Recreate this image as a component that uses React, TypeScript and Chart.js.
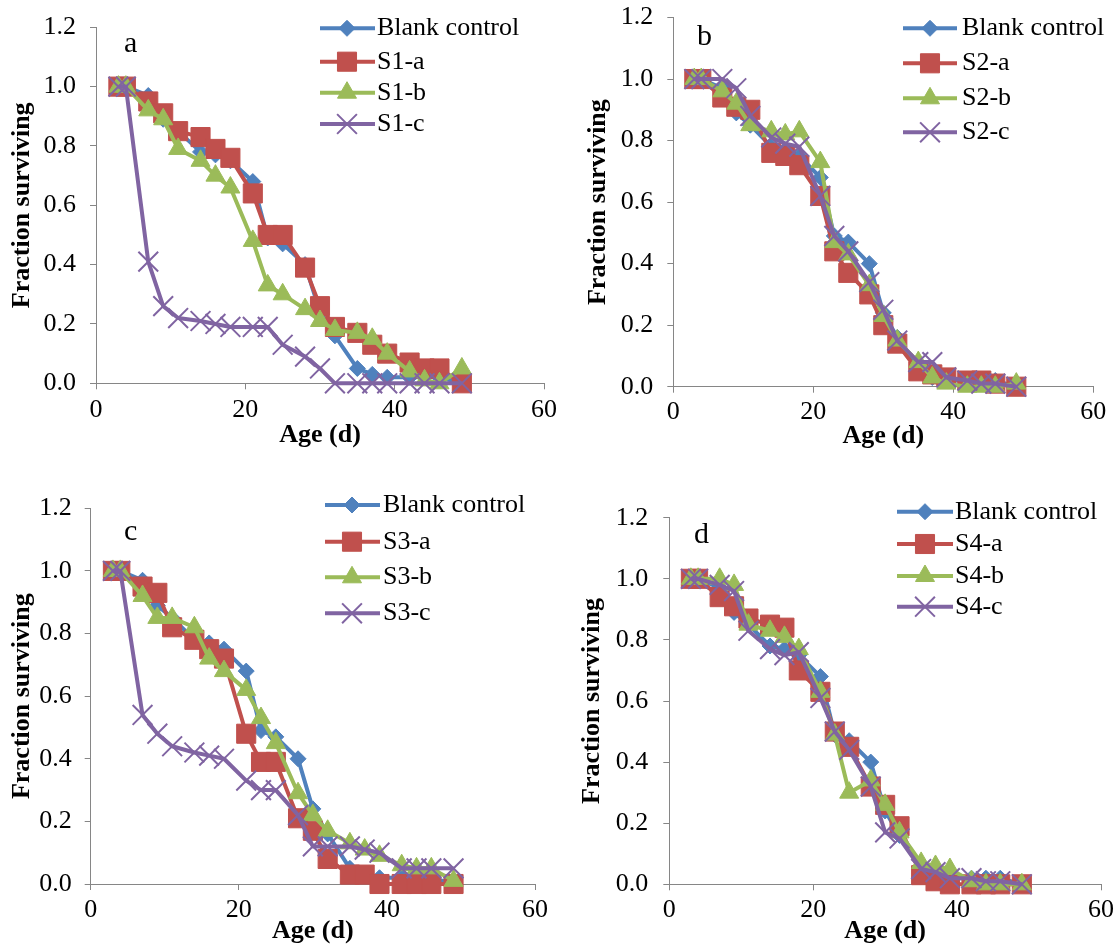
import React, { useEffect, useRef } from 'react';
import { Chart, registerables } from 'chart.js';

Chart.register(...registerables);

// ---------- data ----------
const ages = [3, 4, 7, 9, 11, 14, 16, 18, 21, 23, 25, 28, 30, 32, 35, 37, 39, 42, 44, 46, 49];

const blankControl = [1.0, 1.0, 0.97, 0.89, 0.85, 0.78, 0.77, 0.75, 0.68, 0.49, 0.47, 0.40, 0.24, 0.16, 0.05, 0.03, 0.02, 0.02, 0.02, 0.02, 0.0];

const s1a = [1.0, 1.0, 0.95, 0.91, 0.85, 0.83, 0.79, 0.76, 0.64, 0.50, 0.50, 0.39, 0.26, 0.19, 0.17, 0.13, 0.10, 0.07, 0.05, 0.05, 0.0];
const s1b = [1.0, 1.0, 0.92, 0.89, 0.79, 0.75, 0.70, 0.66, 0.48, 0.33, 0.30, 0.25, 0.21, 0.18, 0.17, 0.15, 0.10, 0.04, 0.01, 0.0, 0.05];
const s1c = [1.0, 1.0, 0.41, 0.26, 0.22, 0.21, 0.20, 0.19, 0.19, 0.19, 0.13, 0.09, 0.05, 0.0, 0.0, 0.0, 0.0, 0.0, 0.0, 0.0, 0.0];

const s2a = [1.0, 1.0, 0.94, 0.91, 0.90, 0.76, 0.75, 0.72, 0.62, 0.44, 0.37, 0.30, 0.20, 0.14, 0.05, 0.04, 0.03, 0.02, 0.02, 0.01, 0.0];
const s2b = [1.0, 1.0, 0.96, 0.92, 0.85, 0.83, 0.82, 0.83, 0.73, 0.47, 0.43, 0.33, 0.23, 0.15, 0.08, 0.03, 0.01, 0.0, 0.0, 0.0, 0.01];
const s2c = [1.0, 1.0, 1.0, 0.97, 0.88, 0.81, 0.79, 0.78, 0.62, 0.49, 0.44, 0.34, 0.25, 0.15, 0.08, 0.08, 0.03, 0.02, 0.01, 0.01, 0.0];

const s3a = [1.0, 1.0, 0.95, 0.93, 0.82, 0.78, 0.75, 0.72, 0.48, 0.39, 0.39, 0.21, 0.17, 0.08, 0.03, 0.03, 0.0, 0.0, 0.0, 0.0, 0.0];
const s3b = [1.0, 1.0, 0.92, 0.85, 0.85, 0.82, 0.72, 0.68, 0.62, 0.53, 0.45, 0.29, 0.22, 0.17, 0.13, 0.11, 0.09, 0.06, 0.05, 0.05, 0.01];
const s3c = [1.0, 1.0, 0.54, 0.48, 0.44, 0.42, 0.41, 0.40, 0.33, 0.30, 0.30, 0.22, 0.12, 0.12, 0.12, 0.11, 0.10, 0.05, 0.05, 0.05, 0.05];

const s4a = [1.0, 1.0, 0.94, 0.91, 0.87, 0.85, 0.84, 0.70, 0.63, 0.50, 0.45, 0.32, 0.26, 0.19, 0.03, 0.01, 0.0, 0.0, 0.0, 0.0, 0.0];
const s4b = [1.0, 1.0, 1.0, 0.98, 0.85, 0.83, 0.81, 0.77, 0.63, 0.49, 0.30, 0.34, 0.26, 0.17, 0.07, 0.06, 0.05, 0.01, 0.0, 0.0, 0.0];
const s4c = [1.0, 1.0, 0.98, 0.96, 0.83, 0.77, 0.75, 0.76, 0.61, 0.50, 0.44, 0.32, 0.17, 0.15, 0.05, 0.04, 0.02, 0.02, 0.01, 0.01, 0.0];

const labelsA = ['Blank control', 'S1-a', 'S1-b', 'S1-c'];
const labelsB = ['Blank control', 'S2-a', 'S2-b', 'S2-c'];
const labelsC = ['Blank control', 'S3-a', 'S3-b', 'S3-c'];
const labelsD = ['Blank control', 'S4-a', 'S4-b', 'S4-c'];

const xTickValues = [0, 20, 40, 60];
const yTickValues = [0, 0.2, 0.4, 0.6, 0.8, 1.0, 1.2];

const xTitle = 'Age (d)';
const yTitle = 'Fraction surviving';

// ---------- styles ----------
const FONT = '"Liberation Serif", "Times New Roman", serif';
const AXIS_GRAY = '#868686';
const seriesStyles = [
  { color: '#4F81BD', pointStyle: 'rectRot', radius: 8, pbw: 1 },
  { color: '#C0504D', pointStyle: 'rect', radius: 13.5, pbw: 1 },
  { color: '#9BBB59', pointStyle: 'triangle', radius: 11, pbw: 1 },
  { color: '#8064A2', pointStyle: 'crossRot', radius: 14, pbw: 2 },
];

type Panel = {
  key: string;
  canvas: { x: number; y: number; w: number; h: number };
  area: { L: number; R: number; T: number; B: number };
  yTitleX: number;
  yLabelGap: number;
  xLabelOff: number;
  xTitleOff: number;
  legend: { x1: number; x2: number; mx: number; tx: number; rows: number[] };
  letter: { text: string; x: number; y: number };
  labels: string[];
  series: number[][];
};

const panels: Panel[] = [
  {
    key: 'a',
    canvas: { x: 0, y: 0, w: 560, h: 470 },
    area: { L: 96, R: 545, T: 27.3, B: 383.3 },
    yTitleX: 22.5,
    yLabelGap: 14,
    xLabelOff: 27,
    xTitleOff: 52,
    legend: { x1: 320, x2: 375, mx: 347, tx: 377, rows: [28.3, 61.7, 92.7, 124] },
    letter: { text: 'a', x: 124, y: 51.7 },
    labels: labelsA,
    series: [blankControl, s1a, s1b, s1c],
  },
  {
    key: 'b',
    canvas: { x: 560, y: 0, w: 557, h: 470 },
    area: { L: 673.3, R: 1093.3, T: 17.5, B: 386.7 },
    yTitleX: 598,
    yLabelGap: 14,
    xLabelOff: 25,
    xTitleOff: 50,
    legend: { x1: 903, x2: 957, mx: 930, tx: 962, rows: [28.3, 63.3, 98.3, 132.3] },
    letter: { text: 'b', x: 697, y: 45 },
    labels: labelsB,
    series: [blankControl, s2a, s2b, s2c],
  },
  {
    key: 'c',
    canvas: { x: 0, y: 470, w: 560, h: 475 },
    area: { L: 90.7, R: 535, T: 508.3, B: 884 },
    yTitleX: 22.5,
    yLabelGap: 13,
    xLabelOff: 26,
    xTitleOff: 47,
    legend: { x1: 325, x2: 380, mx: 352, tx: 383, rows: [505, 541.7, 577.3, 613.3] },
    letter: { text: 'c', x: 124, y: 540 },
    labels: labelsC,
    series: [blankControl, s3a, s3b, s3c],
  },
  {
    key: 'd',
    canvas: { x: 560, y: 470, w: 557, h: 475 },
    area: { L: 669.3, R: 1101.7, T: 517.7, B: 884.3 },
    yTitleX: 592.5,
    yLabelGap: 15,
    xLabelOff: 26,
    xTitleOff: 47,
    legend: { x1: 897, x2: 953, mx: 925, tx: 955, rows: [511.7, 544, 576, 606.7] },
    letter: { text: 'd', x: 694, y: 543 },
    labels: labelsD,
    series: [blankControl, s4a, s4b, s4c],
  },
];

function drawMarker(ctx: CanvasRenderingContext2D, style: string, x: number, y: number, r: number, color: string, bw: number) {
  ctx.save();
  ctx.fillStyle = color;
  ctx.strokeStyle = color;
  ctx.lineWidth = bw;
  ctx.beginPath();
  if (style === 'rectRot') {
    ctx.moveTo(x, y - r);
    ctx.lineTo(x + r, y);
    ctx.lineTo(x, y + r);
    ctx.lineTo(x - r, y);
    ctx.closePath();
    ctx.fill();
    ctx.stroke();
  } else if (style === 'rect') {
    const s = r * Math.SQRT1_2;
    ctx.rect(x - s, y - s, 2 * s, 2 * s);
    ctx.fill();
    ctx.stroke();
  } else if (style === 'triangle') {
    ctx.moveTo(x, y - r);
    ctx.lineTo(x + r * Math.sin((2 * Math.PI) / 3), y - r * Math.cos((2 * Math.PI) / 3));
    ctx.lineTo(x + r * Math.sin((4 * Math.PI) / 3), y - r * Math.cos((4 * Math.PI) / 3));
    ctx.closePath();
    ctx.fill();
    ctx.stroke();
  } else {
    const d = r * Math.SQRT1_2;
    ctx.moveTo(x - d, y - d);
    ctx.lineTo(x + d, y + d);
    ctx.moveTo(x - d, y + d);
    ctx.lineTo(x + d, y - d);
    ctx.stroke();
  }
  ctx.restore();
}

const panelDecor = {
  id: 'panelDecor',
  afterDatasetsDraw(chart: any, _args: any, opts: any) {
    const ctx: CanvasRenderingContext2D = chart.ctx;
    ctx.save();
    chart.data.datasets.forEach((ds: any, i: number) => {
      const y = opts.rows[i];
      ctx.strokeStyle = ds.borderColor;
      ctx.lineWidth = ds.borderWidth;
      ctx.beginPath();
      ctx.moveTo(opts.x1, y);
      ctx.lineTo(opts.x2, y);
      ctx.stroke();
      drawMarker(ctx, ds.pointStyle, opts.mx, y, ds.pointRadius, ds.pointBackgroundColor, ds.pointBorderWidth);
      ctx.fillStyle = '#000';
      ctx.font = `26px ${FONT}`;
      ctx.textAlign = 'left';
      ctx.textBaseline = 'middle';
      ctx.fillText(ds.label, opts.tx, y);
    });
    ctx.font = `30px ${FONT}`;
    ctx.textAlign = 'left';
    ctx.textBaseline = 'alphabetic';
    ctx.fillStyle = '#000';
    ctx.fillText(opts.letter, opts.lx, opts.ly);
    ctx.restore();
  },
};

const TICK_LEN = 6;
const FONT_SIZE = 26;
const LH = FONT_SIZE * 1.2;

function PanelChart({ p }: { p: Panel }) {
  const ref = useRef<HTMLCanvasElement | null>(null);
  useEffect(() => {
    if (!ref.current) return;
    const { canvas, area } = p;
    const yW = area.L - canvas.x;
    const xH = canvas.y + canvas.h - area.B;
    const datasets = p.series.map((vals, i) => {
      const st = seriesStyles[i];
      return {
        label: p.labels[i],
        data: ages.map((a, j) => ({ x: a, y: vals[j] })),
        borderColor: st.color,
        backgroundColor: st.color,
        borderWidth: 4,
        borderJoinStyle: 'round' as const,
        pointStyle: st.pointStyle,
        pointRadius: st.radius,
        pointHoverRadius: st.radius,
        pointBackgroundColor: st.color,
        pointBorderColor: st.color,
        pointBorderWidth: st.pbw,
        tension: 0,
        clip: false as any,
        order: 4 - i,
      };
    });
    const chart = new Chart(ref.current, {
      type: 'line',
      data: { datasets },
      plugins: [panelDecor],
      options: {
        animation: false,
        responsive: false,
        maintainAspectRatio: false,
        devicePixelRatio: 1,
        events: [],
        layout: {
          padding: {
            left: 0,
            top: area.T - canvas.y,
            right: canvas.x + canvas.w - area.R,
            bottom: 0,
          },
        },
        scales: {
          x: {
            type: 'linear',
            min: xTickValues[0],
            max: xTickValues[xTickValues.length - 1],
            afterBuildTicks: (scale: any) => {
              scale.ticks = xTickValues.map((v) => ({ value: v }));
            },
            afterFit: (scale: any) => {
              scale.height = xH;
              scale.paddingLeft = 0;
              scale.paddingRight = 0;
              scale.paddingTop = 0;
              scale.paddingBottom = 0;
            },
            ticks: {
              color: '#000',
              font: { family: FONT, size: FONT_SIZE },
              padding: p.xLabelOff - TICK_LEN - LH / 2,
              maxRotation: 0,
              callback: (v: any) => String(v),
            },
            grid: { drawOnChartArea: false, drawTicks: true, tickLength: TICK_LEN, color: AXIS_GRAY, lineWidth: 1 },
            border: { display: true, color: AXIS_GRAY, width: 1 },
            title: {
              display: true,
              text: xTitle,
              color: '#000',
              font: { family: FONT, size: FONT_SIZE, weight: 'bold', lineHeight: 1.2 },
              padding: { top: 0, bottom: xH - p.xTitleOff - LH / 2 },
            },
          },
          y: {
            type: 'linear',
            min: yTickValues[0],
            max: yTickValues[yTickValues.length - 1],
            afterBuildTicks: (scale: any) => {
              scale.ticks = yTickValues.map((v) => ({ value: v }));
            },
            afterFit: (scale: any) => {
              scale.width = yW;
              scale.paddingLeft = 0;
              scale.paddingRight = 0;
              scale.paddingTop = 0;
              scale.paddingBottom = 0;
            },
            ticks: {
              color: '#000',
              font: { family: FONT, size: FONT_SIZE },
              padding: p.yLabelGap,
              callback: (v: any) => Number(v).toFixed(1),
            },
            grid: { drawOnChartArea: false, drawTicks: true, tickLength: TICK_LEN, color: AXIS_GRAY, lineWidth: 1 },
            border: { display: true, color: AXIS_GRAY, width: 1 },
            title: {
              display: true,
              text: yTitle,
              color: '#000',
              font: { family: FONT, size: FONT_SIZE, weight: 'bold', lineHeight: 1.2 },
              padding: { top: p.yTitleX - canvas.x - LH / 2, bottom: 0 },
            },
          },
        },
        plugins: {
          legend: { display: false },
          tooltip: { enabled: false },
          panelDecor: {
            x1: p.legend.x1 - canvas.x,
            x2: p.legend.x2 - canvas.x,
            mx: p.legend.mx - canvas.x,
            tx: p.legend.tx - canvas.x,
            rows: p.legend.rows.map((r) => r - canvas.y),
            letter: p.letter.text,
            lx: p.letter.x - canvas.x,
            ly: p.letter.y - canvas.y,
          },
        } as any,
      },
    } as any);
    return () => chart.destroy();
  }, [p]);
  return (
    <canvas
      ref={ref}
      width={p.canvas.w}
      height={p.canvas.h}
      style={{ position: 'absolute', left: p.canvas.x, top: p.canvas.y, width: p.canvas.w, height: p.canvas.h }}
    />
  );
}

export default function App() {
  return (
    <div style={{ position: 'absolute', left: 0, top: 0, width: 1117, height: 945, overflow: 'hidden', background: '#fff' }}>
      {panels.map((p) => (
        <PanelChart key={p.key} p={p} />
      ))}
    </div>
  );
}
